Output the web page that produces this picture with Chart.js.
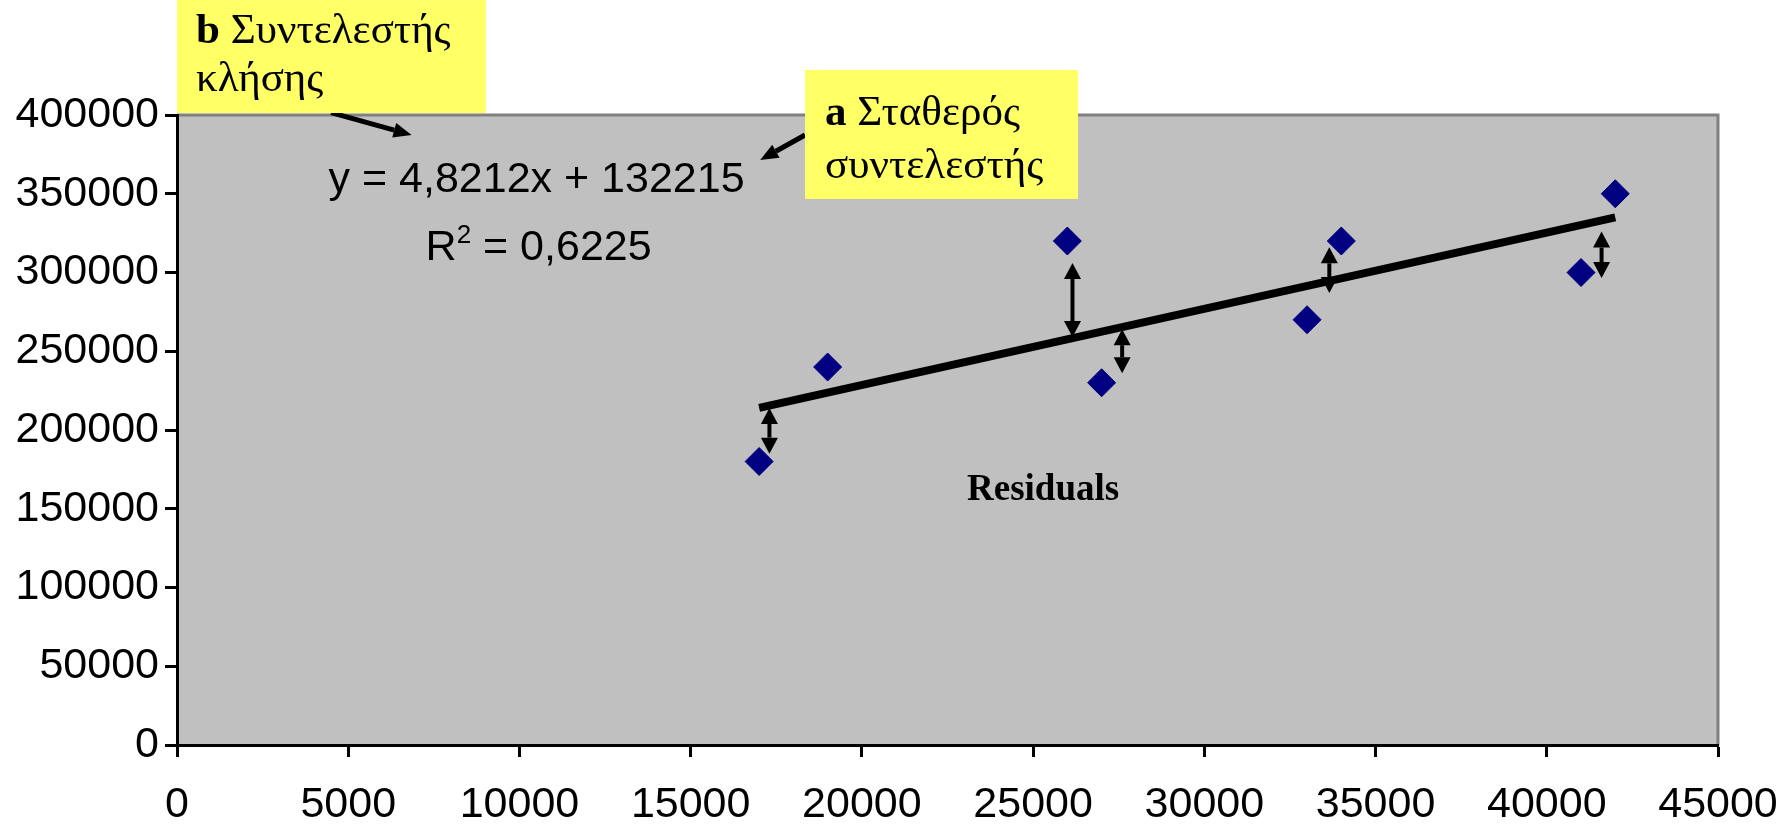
<!DOCTYPE html>
<html>
<head>
<meta charset="utf-8">
<script src="https://cdn.jsdelivr.net/npm/chart.js@4/dist/chart.umd.min.js"></script>
<style>
  html, body { margin: 0; padding: 0; background: #fff; }
  #wrap { width: 1789px; height: 825px; }
</style>
</head>
<body>
<div id="wrap"><canvas id="chart" width="1789" height="825"></canvas></div>
<script>
// values
const xTicks = [0, 5000, 10000, 15000, 20000, 25000, 30000, 35000, 40000, 45000];
const yTicks = [0, 50000, 100000, 150000, 200000, 250000, 300000, 350000, 400000];
const pointX = [17000, 19000, 26000, 27000, 33000, 34000, 41000, 42000];
const pointY = [180000, 240000, 320000, 230000, 270000, 320000, 300000, 350000];
const trendX = [17000, 42000];
const trendY = [214000, 335000];
const residualX = [17300, 26150, 27600, 33650, 41600];
const residualTop = [214000, 306000, 264000, 316000, 326000];
const residualBottom = [185000, 259000, 236000, 287000, 296500];
const equationText = "y = 4,8212x + 132215";
const r2Text = "0,6225";
const residualLabel = "Residuals";
const calloutB = { key: "b", lines: ["Συντελεστής", "κλήσης"] };
const calloutA = { key: "a", lines: ["Σταθερός", "συντελεστής"] };

const sans = "'Liberation Sans', Arial, sans-serif";
const serif = "'Liberation Serif', 'Times New Roman', serif";

function drawArrowHead(ctx, tx, ty, fx, fy, len, width) {
  const ang = Math.atan2(ty - fy, tx - fx);
  const bx = tx - Math.cos(ang) * len;
  const by = ty - Math.sin(ang) * len;
  ctx.beginPath();
  ctx.moveTo(tx, ty);
  ctx.lineTo(bx + Math.sin(ang) * width / 2, by - Math.cos(ang) * width / 2);
  ctx.lineTo(bx - Math.sin(ang) * width / 2, by + Math.cos(ang) * width / 2);
  ctx.closePath();
  ctx.fill();
  return [bx, by];
}

const plotBackground = {
  id: "plotBackground",
  beforeDraw(chart) {
    const { ctx, chartArea: a } = chart;
    ctx.save();
    ctx.fillStyle = "#c0c0c0";
    ctx.fillRect(a.left, a.top, a.right - a.left, a.bottom - a.top);
    ctx.strokeStyle = "#808080";
    ctx.lineWidth = 3;
    ctx.beginPath();
    ctx.moveTo(a.left, a.top);
    ctx.lineTo(a.right, a.top);
    ctx.lineTo(a.right, a.bottom);
    ctx.stroke();
    ctx.restore();
  }
};

const annotations = {
  id: "annotations",
  afterDatasetsDraw(chart) {
    const { ctx } = chart;
    const xs = chart.scales.x;
    const ys = chart.scales.y;
    const px = (v) => xs.getPixelForValue(v);
    const py = (v) => ys.getPixelForValue(v);
    ctx.save();
    ctx.fillStyle = "#000";
    ctx.strokeStyle = "#000";

    // residual arrows
    residualX.forEach((x, i) => {
      const X = px(x);
      const top = py(residualTop[i]);
      const bottom = py(residualBottom[i]);
      const b1 = drawArrowHead(ctx, X, top, X, bottom, 16, 17);
      const b2 = drawArrowHead(ctx, X, bottom, X, top, 16, 17);
      ctx.lineWidth = 4;
      ctx.beginPath();
      ctx.moveTo(X, b1[1]);
      ctx.lineTo(X, b2[1]);
      ctx.stroke();
    });

    // equation
    ctx.textBaseline = "alphabetic";
    ctx.font = "43px " + sans;
    ctx.textAlign = "center";
    ctx.fillText(equationText, px(10500), py(351000));

    // R squared with superscript
    ctx.textAlign = "left";
    const rest = " = " + r2Text;
    ctx.font = "43px " + sans;
    const wR = ctx.measureText("R").width;
    const wRest = ctx.measureText(rest).width;
    ctx.font = "26px " + sans;
    const wSup = ctx.measureText("2").width;
    const total = wR + wSup + wRest;
    const cx = px(10560) - total / 2;
    const base = py(308000);
    ctx.font = "43px " + sans;
    ctx.fillText("R", cx, base);
    ctx.font = "26px " + sans;
    ctx.fillText("2", cx + wR, base - 17);
    ctx.font = "43px " + sans;
    ctx.fillText(rest, cx + wR + wSup, base);

    // residuals label
    ctx.font = "bold 37px " + serif;
    ctx.fillText(residualLabel, px(23070), py(155600));

    // callout arrows
    ctx.lineWidth = 5;
    [[4500, 401500, 6850, 387300], [18340, 387300, 17030, 371400]].forEach(([x1, y1, x2, y2]) => {
      const X1 = px(x1), Y1 = py(y1), X2 = px(x2), Y2 = py(y2);
      const b = drawArrowHead(ctx, X2, Y2, X1, Y1, 18, 15);
      ctx.beginPath();
      ctx.moveTo(X1, Y1);
      ctx.lineTo(b[0], b[1]);
      ctx.stroke();
    });

    // callout boxes
    const boxes = [
      { c: calloutB, x: 0, y: 473000, w: 309, h: 113, dx: 19, base: [43, 91] },
      { c: calloutA, x: 18340, y: 428600, w: 273, h: 129, dx: 20, base: [55, 108] }
    ];
    boxes.forEach((b) => {
      const L = px(b.x), T = py(b.y);
      ctx.fillStyle = "#ffff66";
      ctx.fillRect(L, T, b.w, b.h);
      ctx.fillStyle = "#000";
      ctx.font = "bold 43px " + serif;
      const wKey = ctx.measureText(b.c.key + " ").width;
      ctx.fillText(b.c.key, L + b.dx, T + b.base[0]);
      ctx.font = "43px " + serif;
      ctx.fillText(b.c.lines[0], L + b.dx + wKey, T + b.base[0]);
      ctx.fillText(b.c.lines[1], L + b.dx, T + b.base[1]);
    });
    ctx.restore();
  }
};

const tickFont = { family: sans, size: 43 };

new Chart(document.getElementById("chart"), {
  type: "scatter",
  data: {
    datasets: [
      {
        label: "points",
        data: pointX.map((x, i) => ({ x, y: pointY[i] })),
        pointStyle: "rectRot",
        pointRadius: 14,
        pointHoverRadius: 14,
        backgroundColor: "#000080",
        borderColor: "#000080",
        borderWidth: 1
      },
      {
        label: "trend",
        data: trendX.map((x, i) => ({ x, y: trendY[i] })),
        showLine: true,
        pointRadius: 0,
        borderColor: "#000",
        borderWidth: 8,
        borderCapStyle: "butt"
      }
    ]
  },
  options: {
    responsive: false,
    animation: false,
    events: [],
    layout: { padding: { left: 0, top: 115, right: 71, bottom: 0 } },
    plugins: { legend: { display: false }, tooltip: { enabled: false } },
    scales: {
      x: {
        type: "linear",
        min: 0,
        max: 45000,
        afterBuildTicks: (s) => { s.ticks = xTicks.map((v) => ({ value: v })); },
        afterFit: (s) => { s.height = 80; s.paddingLeft = 0; s.paddingRight = 0; },
        border: { display: true, color: "#000", width: 3 },
        grid: { drawOnChartArea: false, drawTicks: true, tickLength: 12, tickWidth: 3, tickColor: "#000" },
        ticks: { font: tickFont, color: "#000", padding: 22, maxRotation: 0, autoSkip: false, callback: (v) => String(v) }
      },
      y: {
        type: "linear",
        min: 0,
        max: 400000,
        afterBuildTicks: (s) => { s.ticks = yTicks.map((v) => ({ value: v })); },
        afterFit: (s) => { s.width = 177; s.paddingTop = 0; s.paddingBottom = 0; },
        border: { display: true, color: "#000", width: 3 },
        grid: { drawOnChartArea: false, drawTicks: true, tickLength: 12, tickWidth: 3, tickColor: "#000" },
        ticks: { font: tickFont, color: "#000", padding: 6, autoSkip: false, callback: (v) => String(v) }
      }
    }
  },
  plugins: [plotBackground, annotations]
});
</script>
</body>
</html>
